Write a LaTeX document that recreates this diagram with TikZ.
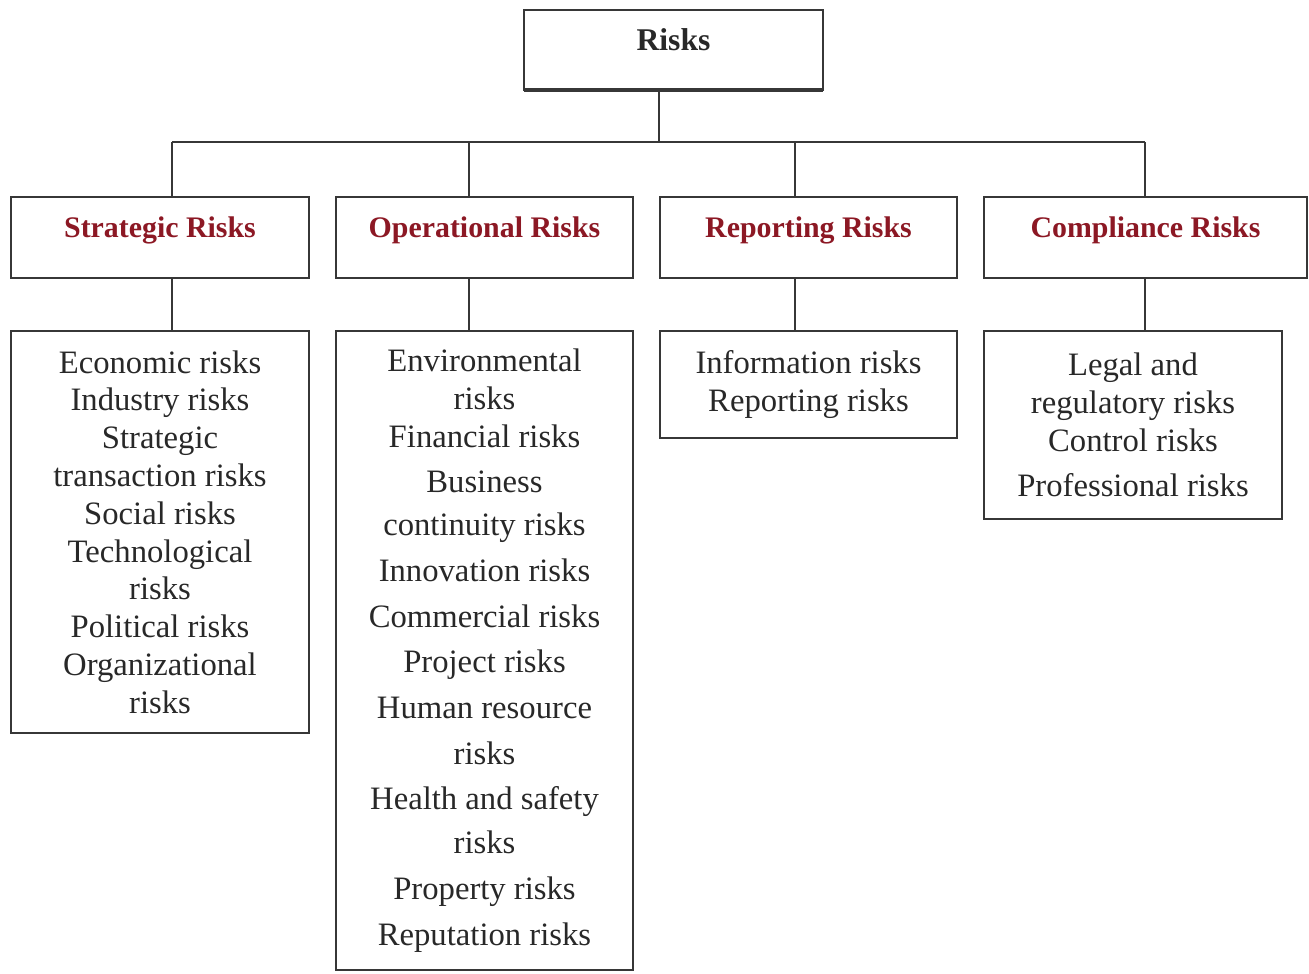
\documentclass[tikz,border=0pt]{standalone}
\usepackage{fontspec}
\setmainfont{Liberation Serif}
\usetikzlibrary{positioning}

\definecolor{riskred}{RGB}{140,24,36}
\definecolor{boxline}{RGB}{55,55,55}
\definecolor{listtext}{RGB}{40,40,40}

\begin{document}
\begin{tikzpicture}[x=0.02cm, y=-0.02cm,
  box/.style={draw=boxline, line width=0.9pt, rectangle, inner sep=0pt, outer sep=0pt, align=center},
  head/.style={box, font=\fontsize{17}{20}\selectfont\bfseries, text=riskred, text height=0.4cm, text depth=0.4cm},
  list/.style={box, font=\fontsize{18.6}{21.5}\selectfont, text=listtext},
  link/.style={draw=boxline, line width=0.9pt}]

\useasboundingbox (0,0) rectangle (1309,974);

% Top box
\node[box, minimum width=5.98cm, minimum height=1.6cm, font=\fontsize{18}{21}\selectfont\bfseries, text=listtext,
  text height=0.4cm, text depth=0.4cm] (risks) at (673.5,50) {Risks};
\draw[boxline, line width=2pt] (risks.south west) -- (risks.south east); % heavy bottom edge

% Junctions on the bus line
\coordinate (jT) at (659,142);
\coordinate (jS) at (172,142);
\coordinate (jO) at (469,142);
\coordinate (jR) at (795,142);
\coordinate (jC) at (1145,142);

% Category boxes
\node[head, minimum width=5.96cm, minimum height=1.62cm] (strat) at (160,237.5) {Strategic Risks};
\node[head, minimum width=5.94cm, minimum height=1.62cm] (oper) at (484.5,237.5) {Operational Risks};
\node[head, minimum width=5.94cm, minimum height=1.62cm] (repo) at (808.5,237.5) {Reporting Risks};
\node[head, minimum width=6.46cm, minimum height=1.62cm] (comp) at (1145.5,237.5) {Compliance Risks};

% Lists of risks
\node[list, minimum width=5.96cm, minimum height=8.04cm] (stratlist) at (160,532)
  {Economic risks\\Industry risks\\Strategic\\transaction risks\\Social risks\\Technological\\risks\\Political risks\\Organizational\\risks};
\node[list, minimum width=5.94cm, minimum height=12.78cm] (operlist) at (484.5,650.5)
  {Environmental\\risks\\Financial risks\\[4.5pt]Business\\[3pt]continuity risks\\[4.5pt]Innovation risks\\[4.5pt]Commercial risks\\[4.5pt]Project risks\\[4.5pt]Human resource\\[4.5pt]risks\\[4.5pt]Health and safety\\[3.5pt]risks\\[4.5pt]Property risks\\[4.5pt]Reputation risks};
\node[list, minimum width=5.94cm, minimum height=2.14cm] (repolist) at (808.5,384.5)
  {Information risks\\Reporting risks};
\node[list, minimum width=5.96cm, minimum height=3.76cm] (complist) at (1133,425)
  {Legal and\\regulatory risks\\Control risks\\[4.5pt]Professional risks};

% Connectors
\draw[link] (risks.south -| jT) -- (jT);
\draw[link] (jS) -- (jC);
\foreach \j/\h/\l in {jS/strat/stratlist, jO/oper/operlist, jR/repo/repolist, jC/comp/complist}{
  \draw[link] (\j) -- (\j |- \h.north);
  \draw[link] (\h.south -| \j) -- (\j |- \l.north);
}

\end{tikzpicture}
\end{document}
